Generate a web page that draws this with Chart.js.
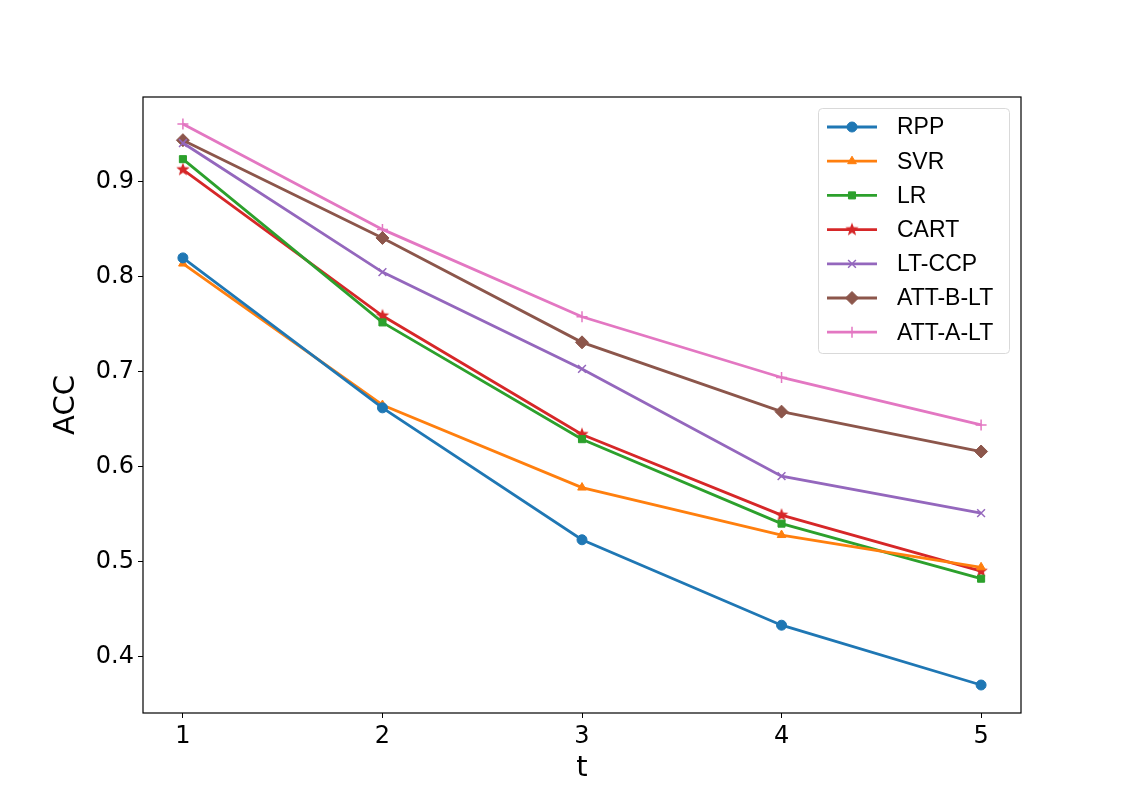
<!DOCTYPE html>
<html>
<head>
<meta charset="utf-8">
<script src="https://cdn.jsdelivr.net/npm/chart.js@4"></script>
<style>
  body { margin: 0; background: #fff; }
  #wrap { width: 1135px; height: 801px; }
</style>
</head>
<body>
<div id="wrap"><canvas id="myChart" width="1135" height="801"></canvas></div>
<script>
// data
var tValues = [1, 2, 3, 4, 5];
var rpp     = [0.820, 0.662, 0.523, 0.433, 0.370];
var svr     = [0.814, 0.665, 0.578, 0.528, 0.494];
var lr      = [0.924, 0.752, 0.629, 0.540, 0.482];
var cart    = [0.913, 0.759, 0.634, 0.549, 0.490];
var ltccp   = [0.941, 0.805, 0.703, 0.590, 0.551];
var attB    = [0.944, 0.841, 0.731, 0.658, 0.616];
var attA    = [0.961, 0.850, 0.758, 0.694, 0.644];
var yTicks  = [0.4, 0.5, 0.6, 0.7, 0.8, 0.9];

// filled five point star like matplotlib '*'
function starImage(color, r) {
  var c = document.createElement('canvas');
  c.width = r * 2 + 2; c.height = r * 2 + 2;
  var g = c.getContext('2d');
  g.fillStyle = color;
  g.beginPath();
  for (var i = 0; i < 10; i++) {
    var rad = i % 2 == 0 ? r : r * 0.42;
    var a = -Math.PI / 2 + i * Math.PI / 5;
    var px = r + 1 + rad * Math.cos(a), py = r + 1 + rad * Math.sin(a);
    if (i == 0) g.moveTo(px, py); else g.lineTo(px, py);
  }
  g.closePath();
  g.fill();
  return c;
}

function series(label, vals, color, style, size) {
  return {
    label: label,
    data: tValues.map(function (t, i) { return { x: t, y: vals[i] }; }),
    borderColor: color,
    backgroundColor: color,
    pointStyle: style,
    pointRadius: size,
    pointBorderWidth: style == 'cross' || style == 'crossRot' ? 1.5 : 1,
    borderWidth: 2.8,
    tension: 0
  };
}

var datasets = [
  series('RPP', rpp, '#1f77b4', 'circle', 5),
  series('SVR', svr, '#ff7f0e', 'triangle', 5),
  series('LR', lr, '#2ca02c', 'rect', 5),
  series('CART', cart, '#d62728', starImage('#d62728', 7), 7),
  series('LT-CCP', ltccp, '#9467bd', 'crossRot', 5.5),
  series('ATT-B-LT', attB, '#8c564b', 'rectRot', 6.5),
  series('ATT-A-LT', attA, '#e377c2', 'cross', 5.5)
];

// axes frame, axis titles and legend box inside the plot
var framePlugin = {
  id: 'frame',
  afterDatasetsDraw: function (chart) {
    var ctx = chart.ctx, a = chart.chartArea;
    ctx.save();
    ctx.strokeStyle = '#000';
    ctx.lineWidth = 1.2;
    ctx.strokeRect(a.left, a.top, a.right - a.left, a.bottom - a.top);

    // axis titles
    ctx.fillStyle = '#000';
    ctx.font = '29px "DejaVu Sans"';
    ctx.textAlign = 'center';
    ctx.textBaseline = 'middle';
    ctx.fillText('t', (a.left + a.right) / 2, 768);
    ctx.save();
    ctx.translate(66, (a.top + a.bottom) / 2);
    ctx.rotate(-Math.PI / 2);
    ctx.fillText('ACC', 0, 0);
    ctx.restore();

    // legend
    var bx = 818, by = 108, bw = 191, bh = 245;
    ctx.fillStyle = 'rgba(255,255,255,0.8)';
    ctx.strokeStyle = '#d9d9d9';
    ctx.lineWidth = 1;
    ctx.beginPath();
    ctx.roundRect(bx + 0.5, by + 0.5, bw, bh, 4);
    ctx.fill();
    ctx.stroke();
    ctx.font = '23px "Liberation Sans", Arial, sans-serif';
    ctx.textAlign = 'left';
    chart.data.datasets.forEach(function (ds, i) {
      var yy = by + 19 + i * 34.2;
      ctx.strokeStyle = ds.borderColor;
      ctx.lineWidth = 2.8;
      ctx.beginPath();
      ctx.moveTo(827, yy);
      ctx.lineTo(877, yy);
      ctx.stroke();
      ctx.fillStyle = ds.borderColor;
      ctx.strokeStyle = ds.borderColor;
      ctx.lineWidth = ds.pointBorderWidth;
      Chart.helpers.drawPoint(ctx, {
        pointStyle: ds.pointStyle, radius: ds.pointRadius, rotation: 0,
        borderWidth: ds.pointBorderWidth
      }, 852, yy);
      ctx.fillStyle = '#000';
      ctx.fillText(ds.label, 897, yy + 1);
    });
    ctx.restore();
  }
};

new Chart('myChart', {
  type: 'line',
  data: { datasets: datasets },
  plugins: [framePlugin],
  options: {
    responsive: false,
    animation: false,
    events: [],
    layout: { padding: { top: 97, right: 114, left: 0, bottom: 0 } },
    plugins: {
      legend: { display: false },
      tooltip: { enabled: false }
    },
    scales: {
      x: {
        type: 'linear',
        min: 0.8, max: 5.2,
        afterBuildTicks: function (s) { s.ticks = tValues.map(function (v) { return { value: v }; }); },
        afterFit: function (s) { s.height = 88; },
        grid: { drawOnChartArea: false, color: '#000', tickLength: 5, tickWidth: 1 },
        border: { display: false },
        ticks: {
          color: '#000', padding: 4,
          font: { family: '"DejaVu Sans"', size: 24 },
          callback: function (v) { return String(v); }
        }
      },
      y: {
        type: 'linear',
        min: 0.3405, max: 0.9895,
        afterBuildTicks: function (s) { s.ticks = yTicks.map(function (v) { return { value: v }; }); },
        afterFit: function (s) { s.width = 143; },
        grid: { drawOnChartArea: false, color: '#000', tickLength: 5, tickWidth: 1 },
        border: { display: false },
        ticks: {
          color: '#000', padding: 4,
          font: { family: '"DejaVu Sans"', size: 24 },
          callback: function (v) { return v.toFixed(1); }
        }
      }
    }
  }
});
</script>
</body>
</html>
